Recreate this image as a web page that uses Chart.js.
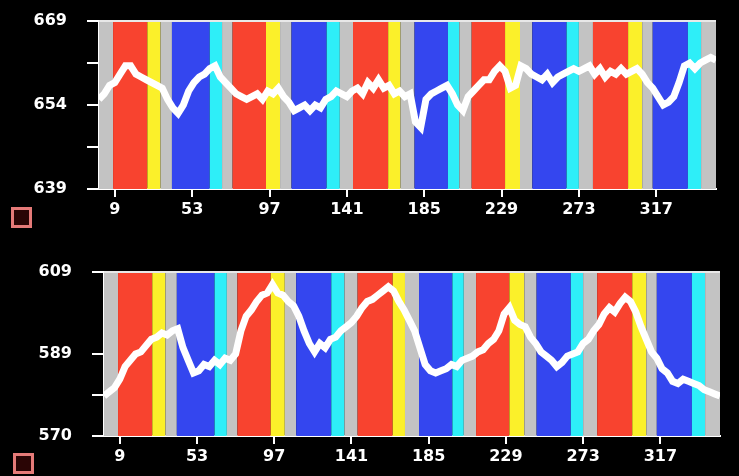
<!DOCTYPE html>
<html>
<head>
<meta charset="utf-8">
<script src="https://cdn.jsdelivr.net/npm/chart.js@4"></script>
<style>
  html, body { margin: 0; padding: 0; background: #000; }
  #wrap { position: relative; width: 739px; height: 476px; overflow: hidden; background: #000; }
  .panel { position: absolute; left: 0; width: 739px; height: 238px; }
  #panel-top { top: 0; }
  #panel-bottom { top: 238px; }
  canvas { display: block; }
  .marker { position: absolute; width: 15px; height: 15px; border: 3px solid #e57a78; background: #2a0505; }
</style>
</head>
<body>
<div id="wrap">
  <div class="panel" id="panel-top"><canvas id="chart-top" width="739" height="238"></canvas></div>
  <div class="panel" id="panel-bottom"><canvas id="chart-bottom" width="739" height="238"></canvas></div>
  <div class="marker" style="left:11px; top:207px;"></div>
  <div class="marker" style="left:13px; top:453px;"></div>
</div>
<script>
/* ---- data ---- */
const SAMPLE_STEP = 3;   // one reading every 3 samples

const topValues = [
  655, 656, 657.5, 658, 659.5, 661, 661, 659.5, 659, 658.5,
  658, 657.5, 657, 655, 653.5, 652.5, 654, 656.5, 658, 659,
  659.5, 660.5, 661, 659, 658, 657, 656, 655.5, 655, 655.5,
  656, 655, 656.5, 656, 657, 655.5, 654.5, 653, 653.5, 654,
  653, 654, 653.5, 655, 655.5, 656.5, 656, 655.5, 656.5, 657,
  656, 658, 657, 658.5, 657, 657.5, 656, 656.5, 655.5, 656,
  651, 650, 655, 656, 656.5, 657, 657.5, 656, 654, 653,
  655.5, 656.5, 657.5, 658.5, 658.5, 660, 661, 660, 657, 657.5,
  661, 660.5, 659.5, 659, 658.5, 659.5, 658, 659, 659.5, 660,
  660.5, 660, 660.5, 661, 659.5, 660.5, 659, 660, 659.5, 660.5,
  659.5, 660, 660.5, 659.5, 658, 657, 655.5, 654, 654.5, 655.5,
  658, 661, 661.5, 660.5, 661.5, 662, 662.5, 662
];

const bottomValues = [
  579.5, 580.5, 581.5, 583.5, 586.5, 588, 589.5, 590, 591.5, 593,
  593.5, 594.5, 594, 595, 595.5, 591, 588, 585, 585.5, 587,
  586.5, 588, 587, 588.5, 588, 589.5, 595, 598.5, 600, 602,
  603.5, 604, 606, 604, 603.5, 602, 601, 598.5, 595, 592,
  590, 592, 591, 593, 593.5, 595, 596, 597, 598.5, 600.5,
  602, 602.5, 603.5, 604.5, 605.5, 604.5, 602, 600, 597.5, 595,
  591, 587, 585.5, 585, 585.5, 586, 587, 586.5, 588, 588.5,
  589, 590, 590.5, 592, 593, 595, 599, 600.5, 597.5, 596.5,
  596, 593.5, 592, 590, 589, 588, 586.5, 587.5, 589, 589.5,
  590, 592, 593, 595, 596.5, 599, 600.5, 599.5, 601.5, 603,
  602, 599.5, 596, 593, 590, 588.5, 586, 585, 583, 582.5,
  583.5, 583, 582.5, 582, 581, 580.5, 580, 579.5
];

// background periods: edges (in samples) and what kind each period is
const bandEdges = [0, 8, 27.5, 35, 41.5, 63, 70, 76, 95, 103, 109.5, 129.5, 137, 144.5,
  164.5, 171.5, 179.5, 198.5, 205, 212, 231, 239.5, 246.5, 266, 273, 281, 301, 309,
  315, 335, 342.5, 351];
const bandKinds = ['off',
  'red', 'yellow', 'off', 'blue', 'cyan', 'off',
  'red', 'yellow', 'off', 'blue', 'cyan', 'off',
  'red', 'yellow', 'off', 'blue', 'cyan', 'off',
  'red', 'yellow', 'off', 'blue', 'cyan', 'off',
  'red', 'yellow', 'off', 'blue', 'cyan', 'off'];

const xTickValues = [9, 53, 97, 141, 185, 229, 273, 317];
const xTickLabels = ['9', '53', '97', '141', '185', '229', '273', '317'];

const topYTicks = [639, 646.5, 654, 661.5, 669];
const topYLabels = ['639', '', '654', '', '669'];
const bottomYTicks = [570, 579.75, 589.5, 609];
const bottomYLabels = ['570', '', '589', '609'];

/* ---- styling ---- */
const BAND_COLORS = {
  off: '#c3c3c3',
  red: '#f8432f',
  yellow: '#fbf02a',
  blue: '#3446ef',
  cyan: '#2eeef8'
};

Chart.defaults.font.family = 'DejaVu Sans';
Chart.defaults.font.size = 16;
Chart.defaults.font.weight = 'bold';
Chart.defaults.color = '#ffffff';

const bandsPlugin = {
  id: 'bands',
  beforeDatasetsDraw(chart) {
    const { ctx, chartArea, scales } = chart;
    const x = scales.x;
    ctx.save();
    bandKinds.forEach((kind, i) => {
      const x0 = x.getPixelForValue(bandEdges[i]);
      const x1 = x.getPixelForValue(bandEdges[i + 1]);
      ctx.fillStyle = BAND_COLORS[kind];
      ctx.fillRect(x0, chartArea.top, x1 - x0, chartArea.bottom - chartArea.top);
    });
    // frame top line
    ctx.strokeStyle = '#e8e8e8';
    ctx.lineWidth = 2;
    ctx.beginPath();
    ctx.moveTo(chartArea.left, chartArea.top);
    ctx.lineTo(chartArea.right, chartArea.top);
    ctx.stroke();
    ctx.restore();
  }
};

function makeChart(id, values, yMin, yMax, yTicks, yLabels, pad) {
  const points = values.map((v, i) => ({ x: i * SAMPLE_STEP, y: v }));
  return new Chart(document.getElementById(id), {
    type: 'line',
    data: {
      datasets: [{
        data: points,
        borderColor: '#ffffff',
        borderWidth: 7,
        borderJoinStyle: 'miter',
        tension: 0,
        pointRadius: 0,
        fill: false
      }]
    },
    options: {
      responsive: false,
      animation: false,
      events: [],
      layout: { padding: pad },
      plugins: { legend: { display: false }, tooltip: { enabled: false } },
      scales: {
        x: {
          type: 'linear',
          min: 0, max: 351,
          afterFit: s => { s.height = 40; },
          afterBuildTicks: s => { s.ticks = xTickValues.map(v => ({ value: v })); },
          grid: { drawOnChartArea: false, color: '#ffffff', lineWidth: 2, tickLength: 8 },
          border: { display: true, color: '#ffffff', width: 2 },
          ticks: {
            padding: 3,
            maxRotation: 0,
            autoSkip: false,
            callback: (v, i) => xTickLabels[i]
          }
        },
        y: {
          min: yMin, max: yMax,
          // tick padding would otherwise push the plot area down
          afterFit: s => { s.width = pad.yWidth; s.paddingTop = 0; s.paddingBottom = 0; },
          afterBuildTicks: s => { s.ticks = yTicks.map(v => ({ value: v })); },
          grid: { drawOnChartArea: false, color: '#ffffff', lineWidth: 2, tickLength: 12 },
          border: { display: true, color: '#ffffff', width: 2 },
          ticks: {
            padding: 20,
            autoSkip: false,
            callback: (v, i) => yLabels[i]
          }
        }
      }
    },
    plugins: [bandsPlugin]
  });
}

makeChart('chart-top', topValues, 639, 669, topYTicks, topYLabels,
  { left: 0, right: 23, top: 21, bottom: 9, yWidth: 99 });
makeChart('chart-bottom', bottomValues, 570, 609, bottomYTicks, bottomYLabels,
  { left: 0, right: 19, top: 34, bottom: 0, yWidth: 104 });
</script>
</body>
</html>
